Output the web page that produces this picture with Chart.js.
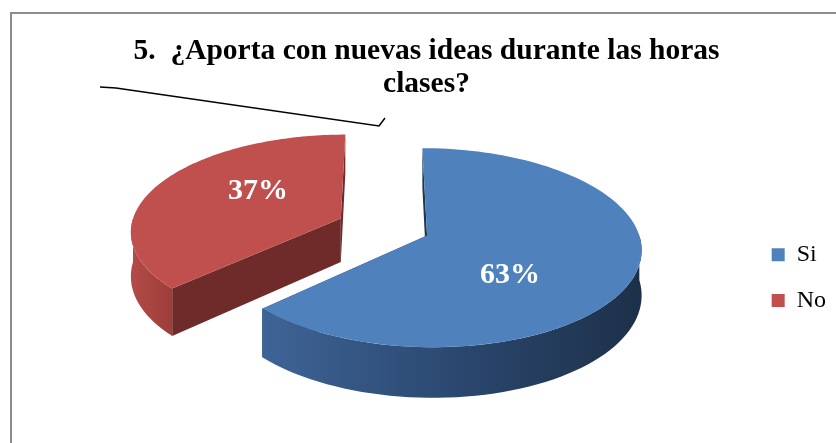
<!DOCTYPE html>
<html>
<head>
<meta charset="utf-8">
<script src="https://cdn.jsdelivr.net/npm/chart.js@4.4.1/dist/chart.umd.min.js"></script>
<style>
  body { margin: 0; background: #fff; }
  canvas { display: block; }
</style>
</head>
<body>
<canvas id="grafico" width="836" height="443"></canvas>
<script>
// Datos del gráfico
const categorias = ['Si', 'No'];
const valores = [63, 37];
const titulo = ['5.  ¿Aporta con nuevas ideas durante las horas', 'clases?'];

// Colores (cara superior, pared exterior, cara de corte)
const coloresTapa = ['#4f81bd', '#c0504d'];
const coloresPared = [['#3e6496', '#2b4870', '#1d3049'], ['#b44b48', '#a84441', '#9c3e3c']];
const coloresCorte = ['#1f3552', '#6e2b2a'];

// Parámetros de la vista 3D
const inclinacion = 0.457;
const perspectiva = 0.12;
const grosor = 44;

// Pastel 3D dibujado a partir de los arcos calculados por Chart.js
const pastel3d = {
    id: 'pastel3d',
    beforeDatasetDraw() {
        return false;
    },
    afterDatasetsDraw(chart) {
        const ctx = chart.ctx;
        const meta = chart.getDatasetMeta(0);
        const total = valores.reduce((a, b) => a + b, 0);

        const porciones = meta.data.map((arc, i) => {
            const r = arc.outerRadius;
            const mid = (arc.startAngle + arc.endAngle) / 2;
            const e = (arc.options.offset || 0) / r;
            return { arc, i, r, mid, vx: e * Math.cos(mid), vy: e * Math.sin(mid) };
        });
        // de atrás hacia adelante
        porciones.sort((a, b) => a.vy - b.vy);

        porciones.forEach(p => {
            const { arc, i, r, vx, vy, mid } = p;
            const a0 = arc.startAngle, a1 = arc.endAngle;
            const proyectar = (px, py, h) => {
                const k = 1 / (1 - perspectiva * py);
                return [arc.x + r * px * k, arc.y + (r * inclinacion * py + h * grosor) * k];
            };
            const punto = (a, h) => proyectar(vx + Math.cos(a), vy + Math.sin(a), h);
            const vertice = h => proyectar(vx, vy, h);
            const camino = pts => {
                ctx.beginPath();
                pts.forEach((q, j) => j ? ctx.lineTo(q[0], q[1]) : ctx.moveTo(q[0], q[1]));
                ctx.closePath();
            };

            // caras de corte
            [a0, a1].forEach(a => {
                camino([vertice(0), punto(a, 0), punto(a, 1), vertice(1)]);
                ctx.fillStyle = coloresCorte[i];
                ctx.fill();
            });

            // pared exterior visible (mitad delantera)
            for (let n = -1; n <= 1; n++) {
                const lo = Math.max(a0, 2 * Math.PI * n);
                const hi = Math.min(a1, 2 * Math.PI * n + Math.PI);
                if (hi <= lo) continue;
                const arriba = [], abajo = [];
                const pasos = 60;
                for (let s = 0; s <= pasos; s++) {
                    const a = lo + (hi - lo) * s / pasos;
                    arriba.push(punto(a, 0));
                    abajo.unshift(punto(a, 1));
                }
                const xs = arriba.map(q => q[0]);
                const x0 = Math.min(...xs), x1 = Math.max(...xs);
                const grad = ctx.createLinearGradient(x0, 0, x1, 0);
                coloresPared[i].forEach((c, j, arr) => grad.addColorStop(j / (arr.length - 1), c));
                camino(arriba.concat(abajo));
                ctx.fillStyle = grad;
                ctx.fill();
            }

            // cara superior
            const tapa = [vertice(0)];
            const pasos = 120;
            for (let s = 0; s <= pasos; s++) {
                tapa.push(punto(a0 + (a1 - a0) * s / pasos, 0));
            }
            camino(tapa);
            ctx.fillStyle = coloresTapa[i];
            ctx.fill();

            // etiqueta de porcentaje
            const v = vertice(0);
            const lx = v[0] + 0.43 * r * Math.cos(mid);
            const ly = v[1] + 0.88 * r * inclinacion * Math.sin(mid) + 6.5;
            ctx.save();
            ctx.font = 'bold 30px "Liberation Serif"';
            ctx.fillStyle = '#ffffff';
            ctx.textAlign = 'center';
            ctx.textBaseline = 'middle';
            ctx.fillText(Math.round(valores[i] / total * 100) + '%', lx, ly);
            ctx.restore();
        });
    }
};

// Marco y línea de llamada
const marco = {
    id: 'marco',
    beforeDraw(chart) {
        const ctx = chart.ctx;
        ctx.save();
        ctx.fillStyle = '#ffffff';
        ctx.fillRect(0, 0, chart.width, chart.height);
        ctx.strokeStyle = '#8c8c8c';
        ctx.lineWidth = 2;
        ctx.beginPath();
        ctx.moveTo(11, chart.height);
        ctx.lineTo(11, 13);
        ctx.lineTo(chart.width, 13);
        ctx.stroke();
        ctx.restore();
    },
    afterDraw(chart) {
        const ctx = chart.ctx;
        ctx.save();
        ctx.strokeStyle = '#000000';
        ctx.lineWidth = 1.5;
        ctx.beginPath();
        ctx.moveTo(100, 87);
        ctx.lineTo(116, 88);
        ctx.lineTo(379, 126);
        ctx.lineTo(385, 118);
        ctx.stroke();
        ctx.restore();
    }
};

Chart.defaults.font.family = '"Liberation Serif", "Times New Roman", serif';
Chart.defaults.color = '#000';

new Chart(document.getElementById('grafico'), {
    type: 'pie',
    data: {
        labels: categorias,
        datasets: [{
            data: valores,
            backgroundColor: coloresTapa,
            borderWidth: 0,
            offset: 47
        }]
    },
    options: {
        responsive: false,
        animation: false,
        radius: 210,
        layout: { padding: { left: 17, right: 0, top: 0, bottom: 108.8 } },
        plugins: {
            title: {
                display: true,
                text: titulo,
                color: '#000',
                font: { size: 29.5, weight: 'bold', lineHeight: 33 / 29.5 },
                padding: { top: 34.5, bottom: 19.3 }
            },
            legend: {
                position: 'right',
                align: 'end',
                labels: {
                    boxWidth: 13,
                    boxHeight: 13,
                    padding: 21.7,
                    color: '#000',
                    font: { size: 24 }
                }
            },
            tooltip: { enabled: false }
        }
    },
    plugins: [marco, pastel3d]
});
</script>
</body>
</html>
